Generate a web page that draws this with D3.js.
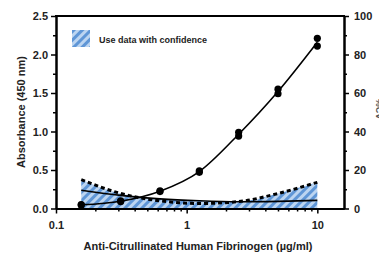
<!DOCTYPE html>
<html>
<head>
<meta charset="utf-8">
<script src="https://cdn.jsdelivr.net/npm/d3@7"></script>
<style>
body { margin: 0; background: #fff; }
svg { display: block; font-family: "Liberation Sans", Arial, sans-serif; font-weight: bold; }
</style>
</head>
<body>
<svg width="379" height="255"></svg>
<script>
// concentrations (ug/ml) and absorbance replicates
const conc = [0.156, 0.3125, 0.625, 1.25, 2.5, 5, 10]
const absRep1 = [0.045, 0.09, 0.22, 0.47, 0.94, 1.49, 2.11]
const absRep2 = [0.05, 0.10, 0.23, 0.49, 0.99, 1.55, 2.21]
const absFit = [0.048, 0.095, 0.225, 0.48, 0.965, 1.52, 2.16]

// %CV curves (right axis)
const cvSolid = [9.5, 6.8, 5.0, 4.0, 3.5, 3.7, 4.2]
const cvDashed = [15, 7.8, 4.0, 2.6, 3.6, 7.8, 13.6]
const cvZone = [15, 7.8, 5.0, 4.0, 3.6, 7.8, 13.6]

const xMajor = [0.1, 1, 10]
const xMinor = [0.2, 0.3, 0.4, 0.5, 0.6, 0.7, 0.8, 0.9, 2, 3, 4, 5, 6, 7, 8, 9]
const yMajor = [0, 0.5, 1.0, 1.5, 2.0, 2.5]
const yMinor = [0.25, 0.75, 1.25, 1.75, 2.25]
const cvMajor = [0, 20, 40, 60, 80, 100]
const cvMinor = [10, 30, 50, 70, 90]

const legendLabel = 'Use data with confidence'
const xTitle = 'Anti-Citrullinated Human Fibrinogen (µg/ml)'
const yTitle = 'Absorbance (450 nm)'
const y2Title = '%CV'

const svg = d3.select('svg')
const mLeft = 56, mRight = 344, mTop = 16, mBottom = 208.5

const x = d3.scaleLog().domain([0.1, 16]).range([mLeft, mRight])
const y = d3.scaleLinear().domain([0, 2.5]).range([mBottom, mTop])
const y2 = d3.scaleLinear().domain([0, 100]).range([mBottom, mTop])

// hatch pattern
const defs = svg.append('defs')
const pat = defs.append('pattern')
    .attr('id', 'hatch')
    .attr('patternUnits', 'userSpaceOnUse')
    .attr('width', 6)
    .attr('height', 6)
    .attr('patternTransform', 'rotate(45)')
pat.append('rect')
    .attr('width', 6).attr('height', 6)
    .attr('fill', '#bcd5f1')
pat.append('rect')
    .attr('width', 3).attr('height', 6)
    .attr('fill', '#5f96d6')

// confidence zone
const zone = conc.map((c, i) => ({ c, v: cvZone[i] }))
svg.append('path')
    .datum(zone)
    .attr('fill', 'url(#hatch)')
    .attr('d', d3.area()
        .x(d => x(d.c))
        .y0(y2(0))
        .y1(d => y2(d.v))
        .curve(d3.curveMonotoneX))

// CV lines
svg.append('path')
    .datum(conc.map((c, i) => ({ c, v: cvSolid[i] })))
    .attr('fill', 'none')
    .attr('stroke', '#000')
    .attr('stroke-width', 1.6)
    .attr('d', d3.line().x(d => x(d.c)).y(d => y2(d.v)).curve(d3.curveMonotoneX))

svg.append('path')
    .datum(conc.map((c, i) => ({ c, v: cvDashed[i] })))
    .attr('fill', 'none')
    .attr('stroke', '#000')
    .attr('stroke-width', 3)
    .attr('stroke-dasharray', '4,3')
    .attr('d', d3.line().x(d => x(d.c)).y(d => y2(d.v)).curve(d3.curveMonotoneX))

// standard curve
svg.append('path')
    .datum(conc.map((c, i) => ({ c, v: absFit[i] })))
    .attr('fill', 'none')
    .attr('stroke', '#000')
    .attr('stroke-width', 1.6)
    .attr('d', d3.line().x(d => x(d.c)).y(d => y(d.v)).curve(d3.curveMonotoneX))

const pts = conc.flatMap((c, i) => [{ c, v: absRep1[i] }, { c, v: absRep2[i] }])
svg.selectAll('circle.pt')
    .data(pts)
    .join('circle')
        .attr('class', 'pt')
        .attr('cx', d => x(d.c))
        .attr('cy', d => y(d.v))
        .attr('r', 3.6)
        .attr('fill', '#000')

// axes
function styleAxis(g) {
    g.selectAll('path.domain').attr('stroke-width', 2)
    g.selectAll('line').attr('stroke-width', 1.5)
    g.selectAll('text').attr('font-size', 11).attr('font-weight', 'bold')
        .attr('font-family', '"Liberation Sans", Arial, sans-serif').attr('fill', '#222')
}

svg.append('g')
    .attr('transform', `translate(0,${mBottom})`)
    .call(d3.axisBottom(x).tickValues(xMinor).tickSize(3).tickSizeOuter(0).tickFormat(''))
    .call(styleAxis)
svg.append('g')
    .attr('transform', `translate(0,${mBottom})`)
    .call(d3.axisBottom(x).tickValues(xMajor).tickSize(5).tickSizeOuter(0).tickPadding(8).tickFormat(d3.format('~g')))
    .call(styleAxis)

svg.append('g')
    .attr('transform', `translate(${mLeft},0)`)
    .call(d3.axisLeft(y).tickValues(yMinor).tickSize(3).tickSizeOuter(0).tickFormat(''))
    .call(styleAxis)
svg.append('g')
    .attr('transform', `translate(${mLeft},0)`)
    .call(d3.axisLeft(y).tickValues(yMajor).tickSize(5).tickSizeOuter(0).tickPadding(3).tickFormat(d3.format('.1f')))
    .call(styleAxis)

svg.append('g')
    .attr('transform', `translate(${mRight},0)`)
    .call(d3.axisRight(y2).tickValues(cvMinor).tickSize(3).tickSizeOuter(0).tickFormat(''))
    .call(styleAxis)
svg.append('g')
    .attr('transform', `translate(${mRight},0)`)
    .call(d3.axisRight(y2).tickValues(cvMajor).tickSize(5).tickSizeOuter(0).tickPadding(5))
    .call(styleAxis)

svg.append('line')
    .attr('x1', mLeft - 1).attr('x2', mRight + 1)
    .attr('y1', mTop).attr('y2', mTop)
    .attr('stroke', '#000')
    .attr('stroke-width', 2)

// legend
svg.append('rect')
    .attr('x', 72).attr('y', 30)
    .attr('width', 18).attr('height', 17)
    .attr('fill', 'url(#hatch)')
svg.append('text')
    .attr('x', 99).attr('y', 42.5)
    .attr('font-size', 9)
    .attr('fill', '#222')
    .text(legendLabel)

// titles
svg.append('text')
    .attr('x', 198).attr('y', 250)
    .attr('text-anchor', 'middle')
    .attr('font-size', 11)
    .attr('fill', '#222')
    .text(xTitle)

svg.append('text')
    .attr('transform', 'translate(25,112) rotate(-90)')
    .attr('text-anchor', 'middle')
    .attr('font-size', 11)
    .attr('fill', '#222')
    .text(yTitle)

// right title sits mostly outside the frame, as in the original
svg.append('text')
    .attr('transform', 'translate(376,109) rotate(90)')
    .attr('text-anchor', 'middle')
    .attr('font-size', 9)
    .attr('fill', '#555')
    .text(y2Title)
</script>
</body>
</html>
